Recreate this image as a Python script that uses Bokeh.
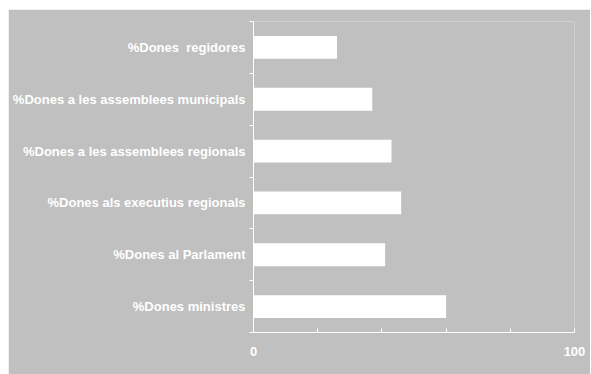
from bokeh.plotting import figure
from bokeh.models import Range1d, FixedTicker, ColumnDataSource
from bokeh.embed import file_html
from bokeh.resources import INLINE

# Categories listed from bottom to top
categories = [
    "%Dones ministres",
    "%Dones al Parlament",
    "%Dones als executius regionals",
    "%Dones a les assemblees regionals",
    "%Dones a les assemblees municipals",
    "%Dones\u00a0 regidores",
]
values = [60, 41, 46, 43, 37, 26]
x_tick_labels = [0, 100]
x_minor_ticks = [20, 40, 60, 80]

positions = [i + 0.5 for i in range(len(categories))]
src = ColumnDataSource(dict(y=positions, v=values, cat=categories))

BG = "#C0C0C0"
p = figure(width=582, height=365, output_backend="svg", toolbar_location=None,
           x_range=Range1d(0, 100), y_range=Range1d(0, len(categories)),
           background_fill_color=BG, border_fill_color=BG,
           min_border_left=245, min_border_right=16, min_border_top=12, min_border_bottom=42)
p.styles = {"margin-left": "8px", "margin-top": "9px"}
p.outline_line_color = None
p.grid.visible = False

p.hbar(y="y", right="v", left=0, height=0.44, source=src,
       fill_color="white", line_color=None)

# y axis: labels at category centres, ticks at boundaries
yax = p.yaxis[0]
yax.ticker = FixedTicker(ticks=positions, minor_ticks=list(range(len(categories) + 1)))
yax.major_label_overrides = {pos: c for pos, c in zip(positions, categories)}
yax.major_tick_out = 0
yax.major_tick_in = 0
yax.minor_tick_out = 4
yax.minor_tick_in = 0
yax.axis_line_color = "white"
yax.minor_tick_line_color = "white"
yax.major_label_standoff = 4
yax.major_label_text_color = "white"
yax.major_label_text_font = "Liberation Sans"
yax.major_label_text_font_style = "bold"
yax.major_label_text_font_size = "13px"

xax = p.xaxis[0]
xax.ticker = FixedTicker(ticks=x_tick_labels, minor_ticks=x_minor_ticks)
xax.major_tick_out = 0
xax.major_tick_in = 4
xax.minor_tick_out = 0
xax.minor_tick_in = 4
xax.axis_line_color = "white"
xax.major_tick_line_color = "white"
xax.minor_tick_line_color = "white"
xax.major_label_standoff = 14
xax.major_label_text_color = "white"
xax.major_label_text_font = "Liberation Sans"
xax.major_label_text_font_style = "bold"
xax.major_label_text_font_size = "13px"

open("out.html", "w").write(file_html(p, INLINE))
